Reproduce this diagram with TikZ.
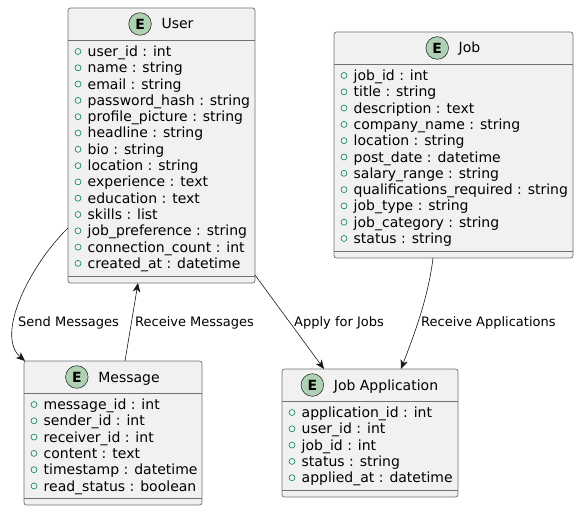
\documentclass[tikz,border=0pt]{standalone}
\usepackage{fontspec}
\setmainfont{DejaVu Sans}
\usetikzlibrary{calc,arrows.meta}
\definecolor{efill}{HTML}{F1F1F1}
\definecolor{eline}{HTML}{181818}
\definecolor{eborder}{HTML}{707070}
\definecolor{ecirc}{HTML}{ADD1B2}
\definecolor{attrc}{HTML}{038048}
\tikzset{
 ent/.style={draw=eborder, fill=efill, line width=0.7pt, rounded corners=2.5pt, inner sep=0pt, outer sep=0pt, anchor=north west},
 sepline/.style={draw=eborder, line width=0.7pt},
 ttl/.style={inner sep=0pt, font=\fontsize{14}{16}\selectfont, anchor=base},
 ecircle/.style={circle, draw=eline, fill=ecirc, line width=0.5pt, minimum size=22.6pt, inner sep=0pt, font=\fontsize{14}{16}\selectfont\bfseries},
 attrtxt/.style={inner sep=0pt, anchor=base west, font=\fontsize{14}{16}\selectfont},
 attrdot/.style={circle, draw=attrc, line width=0.6pt, minimum size=6pt, inner sep=0pt},
 conn/.style={draw=eline, line width=0.6pt, -{Stealth[length=9pt,width=7.5pt,inset=2.5pt]}},
 lbl/.style={inner sep=0pt, anchor=base west, font=\fontsize{13}{15}\selectfont},
}
\newcommand\drawentity[7]{%
 \node[ent, minimum width=#4pt, minimum height=#5pt] (#1) at (#2,#3) {};
 \node[ttl] (#1-t) at ($(#1.north)+(16,21)$) {#6};
 \node[ecircle] (#1-e) at ($(#1-t.base west)+(-21.3,-5)$) {E};
 \draw[sepline] ($(#1.north west)+(0,32)$) -- ($(#1.north east)+(0,32)$);
 \draw[sepline] ($(#1.south west)+(0,-7)$) -- ($(#1.south east)+(0,-7)$);
 \foreach \r [count=\i] in {#7} {
   \node[attrdot] (#1-d\i) at ($(#1.north west)+(10,{43.5+(\i-1)*16.3})$) {};
   \node[attrtxt] (#1-r\i) at ($(#1.north west)+(19.5,{48.5+(\i-1)*16.3})$) {\r};
 }
}
\begin{document}
\begin{tikzpicture}[x=1pt,y=-1pt]
\useasboundingbox (0,0) rectangle (579,511);
\drawentity{user}{68}{8}{187}{275}{User}{user\_id : int, name : string, email : string, password\_hash : string, profile\_picture : string, headline : string, bio : string, location : string, experience : text, education : text, skills : list, job\_preference : string, connection\_count : int, created\_at : datetime}
\drawentity{job}{334}{32}{239}{226}{Job}{job\_id : int, title : string, description : text, company\_name : string, location : string, post\_date : datetime, salary\_range : string, qualifications\_required : string, job\_type : string, job\_category : string, status : string}
\drawentity{msg}{24}{361}{178}{144}{Message}{message\_id : int, sender\_id : int, receiver\_id : int, content : text, timestamp : datetime, read\_status : boolean}
\drawentity{app}{282}{369}{176}{128}{Job Application}{application\_id : int, user\_id : int, job\_id : int, status : string, applied\_at : datetime}

\draw[conn] ($(user.north west)+(0,220)$) .. controls (30,265) and (-5,335) .. ($(msg.north west)+(1,0)$);
\draw[conn] ($(msg.north west)+(101,0)$) -- ($(user.south west)+(70,0)$);
\draw[conn] ($(user.south east)+(0,-8)$) -- ($(app.north west)+(42,0)$);
\draw[conn] ($(job.south west)+(99,0)$) .. controls (428,300) and (412,340) .. ($(app.north west)+(119,0)$);

\node[lbl] (l1) at (18,326) {Send Messages};
\node[lbl] (l2) at (135,326) {Receive Messages};
\node[lbl] (l3) at (294,326) {Apply for Jobs};
\node[lbl] (l4) at (421,326) {Receive Applications};
\end{tikzpicture}
\end{document}
